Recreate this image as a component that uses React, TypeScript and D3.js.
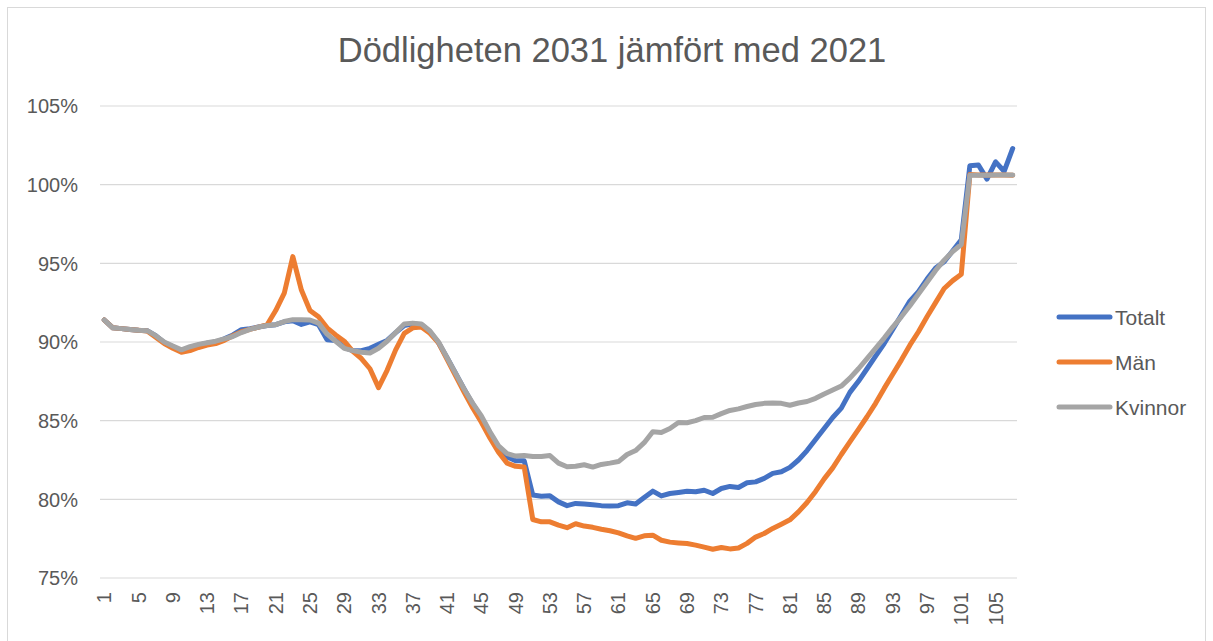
import React from "react";
import * as d3 from "d3";

const title = "Dödligheten 2031 jämfört med 2021";
const ages: number[] = d3.range(1, 108);
const yTicks = [75, 80, 85, 90, 95, 100, 105];
const seriesNames = ["Totalt", "Män", "Kvinnor"];
const seriesColors = ["#4472C4", "#ED7D31", "#A5A5A5"];

const totalt = [
  91.4, 90.9, 90.85, 90.8, 90.75, 90.72, 90.4, 89.95, 89.7, 89.45,
  89.65, 89.8, 89.92, 90.0, 90.2, 90.45, 90.78, 90.85, 90.95, 91.05,
  91.1, 91.28, 91.35, 91.12, 91.28, 91.1, 90.15, 90.1, 89.65, 89.45,
  89.45, 89.6, 89.85, 90.1, 90.6, 91.05, 91.15, 91.1, 90.65, 89.95,
  89.0, 88.0, 87.0, 86.05, 85.2, 84.2, 83.3, 82.7, 82.45, 82.45,
  80.27, 80.2, 80.22, 79.84, 79.6, 79.74, 79.7, 79.65, 79.6, 79.58,
  79.6, 79.78, 79.7, 80.12, 80.52, 80.22, 80.37, 80.44, 80.52, 80.48,
  80.58, 80.37, 80.69, 80.82, 80.75, 81.05, 81.11, 81.33, 81.65, 81.75,
  82.03, 82.5, 83.1, 83.8, 84.5, 85.2, 85.8, 86.8, 87.5, 88.3,
  89.1, 89.9, 90.8, 91.7, 92.6, 93.2, 94.0, 94.7, 95.1, 95.8,
  96.5, 101.2, 101.25, 100.35, 101.45, 100.85, 102.3,
];

const man = [
  91.4, 90.9, 90.85, 90.8, 90.75, 90.7, 90.3, 89.9, 89.6, 89.35,
  89.45, 89.65, 89.8, 89.9, 90.1, 90.4, 90.65, 90.8, 90.95, 91.1,
  92.0, 93.1, 95.43, 93.3, 92.0, 91.6, 90.9, 90.45, 90.05, 89.4,
  88.95, 88.3, 87.1, 88.2, 89.5, 90.55, 90.9, 90.95, 90.55, 89.95,
  88.9, 87.85, 86.8, 85.8, 84.9, 83.9, 83.0, 82.3, 82.1, 82.05,
  78.72, 78.57, 78.57, 78.36, 78.2, 78.45, 78.3, 78.22, 78.1, 78.0,
  77.87, 77.68, 77.52, 77.68, 77.72, 77.4, 77.28, 77.23, 77.19, 77.09,
  76.96, 76.83, 76.94, 76.85, 76.91, 77.2, 77.6, 77.83, 78.15, 78.42,
  78.7, 79.2, 79.8, 80.5, 81.3, 82.0, 82.85, 83.65, 84.45, 85.25,
  86.1, 87.05, 87.95, 88.85, 89.8, 90.65, 91.6, 92.5, 93.4, 93.9,
  94.3, 100.65, 100.62, 100.62, 100.62, 100.62, 100.6,
];

const kvinnor = [
  91.4, 90.9, 90.85, 90.8, 90.75, 90.72, 90.4, 90.0, 89.75, 89.5,
  89.7, 89.85, 89.95, 90.05, 90.2, 90.35, 90.6, 90.8, 90.95, 91.05,
  91.1, 91.3, 91.42, 91.42, 91.4, 91.2, 90.5, 90.05, 89.6, 89.45,
  89.35, 89.3, 89.6, 90.05, 90.6, 91.15, 91.2, 91.15, 90.7, 90.0,
  89.0, 88.0, 87.0, 86.1, 85.3, 84.3, 83.4, 82.9, 82.75, 82.78,
  82.72, 82.72, 82.78, 82.3, 82.07, 82.1, 82.2, 82.05, 82.22, 82.3,
  82.4, 82.85, 83.1, 83.6, 84.3, 84.25, 84.5, 84.88, 84.87, 85.0,
  85.2, 85.22, 85.45, 85.65, 85.75, 85.9, 86.03, 86.1, 86.13, 86.1,
  85.98, 86.12, 86.22, 86.42, 86.7, 86.95, 87.2, 87.7, 88.3, 88.95,
  89.6, 90.25, 90.95, 91.6, 92.3, 93.05, 93.8, 94.55, 95.2, 95.75,
  96.2, 100.6, 100.6, 100.6, 100.62, 100.62, 100.62,
];

const seriesValues = [totalt, man, kvinnor];

const W = 1213;
const H = 641;
const FONT = "'Liberation Sans', Arial, sans-serif";
const TEXT = "#595959";

export default function App() {
  const x = d3
    .scalePoint<number>()
    .domain(ages)
    .range([100, 1017])
    .padding(0.5);
  const y = d3.scaleLinear().domain([75, 105]).range([578, 106]);

  const line = d3
    .line<number>()
    .x((_, i) => x(ages[i]) as number)
    .y((d) => y(d));

  const xLabels = ages.filter((a) => (a - 1) % 4 === 0);

  return (
    <svg
      width={W}
      height={H}
      style={{ position: "absolute", left: 0, top: 0, background: "#fff" }}
      fontFamily={FONT}
    >
      <rect x={0} y={0} width={W} height={H} fill="#fff" />
      <rect
        x={7.5}
        y={7.5}
        width={1198}
        height={650}
        fill="#fff"
        stroke="#D9D9D9"
        strokeWidth={1}
      />
      <text
        x={612}
        y={62}
        textAnchor="middle"
        fontSize={34.5}
        fill={TEXT}
      >
        {title}
      </text>
      {yTicks.map((t) => (
        <g key={t}>
          <line
            x1={100}
            x2={1017}
            y1={y(t)}
            y2={y(t)}
            stroke="#D9D9D9"
            strokeWidth={1.2}
          />
          <text
            x={78}
            y={y(t)}
            dy="0.36em"
            textAnchor="end"
            fontSize={20}
            fill={TEXT}
          >
            {t}%
          </text>
        </g>
      ))}
      {xLabels.map((a) => (
        <text
          key={a}
          transform={`translate(${(x(a) as number) + 7},${592}) rotate(-90)`}
          textAnchor="end"
          fontSize={20}
          fill={TEXT}
        >
          {a}
        </text>
      ))}
      {seriesValues.map((vals, si) => (
        <path
          key={seriesNames[si]}
          d={line(vals) || ""}
          fill="none"
          stroke={seriesColors[si]}
          strokeWidth={5}
          strokeLinejoin="round"
          strokeLinecap="round"
        />
      ))}
      {seriesNames.map((n, i) => {
        const ly = 317 + i * 45;
        return (
          <g key={n}>
            <line
              x1={1059}
              x2={1110}
              y1={ly}
              y2={ly}
              stroke={seriesColors[i]}
              strokeWidth={5}
              strokeLinecap="round"
            />
            <text x={1115} y={ly} dy="0.36em" fontSize={21} fill={TEXT}>
              {n}
            </text>
          </g>
        );
      })}
    </svg>
  );
}
